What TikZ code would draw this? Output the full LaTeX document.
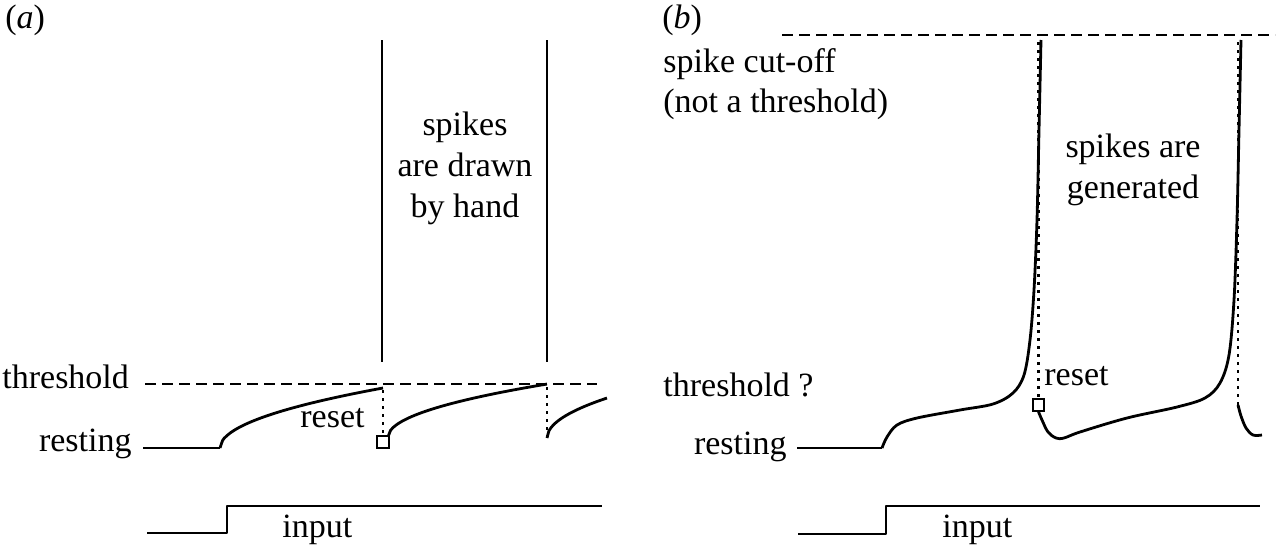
\documentclass[tikz,border=0pt]{standalone}
\usepackage{fontspec}
\setmainfont{Liberation Serif}
\usetikzlibrary{positioning}

\begin{document}
\begin{tikzpicture}[
        x=0.5pt, y=-0.5pt,
        font=\fontsize{17}{20.5}\selectfont,
        lbl/.style={inner sep=0pt},
        trace/.style={line width=1.4pt, line join=round},
        spikeln/.style={line width=1.1pt},
        cutoff/.style={line width=1.1pt, dash pattern=on 5.5pt off 3pt},
        resetln/.style={line width=1.4pt, dash pattern=on 1.4pt off 2.6pt},
        resetbox/.style={draw, line width=1pt, fill=white, inner sep=0pt,
                         minimum size=5.8pt}
    ]
        \useasboundingbox (0,0) rectangle (1280,547);

        % (a): integrate-and-fire, spikes drawn by hand
        \node[lbl, anchor=base west] (taga) at (5,28) {(\textit{a})};
        \node[lbl, anchor=base west] (thra) at (2,388) {threshold};
        \node[lbl, anchor=base east] (resta) at (132,451) {resting};
        \node[lbl, anchor=base east] (reseta) at (365,427) {reset};
        \node[lbl, anchor=base west] (inpa) at (282,537) {input};
        \node[lbl, align=center] (handa) at (465,168) {spikes\\are drawn\\by hand};

        \draw[cutoff] (145,384) -- (597,384);
        \draw[spikeln] (382,40) -- (382,362);
        \draw[spikeln] (547,40) -- (547,362);

        \node[resetbox] (sqa) at (383,442) {};
        \draw[trace] (143,448) -- (220,448);
        \draw[trace] plot[domain=0:163, samples=60, smooth] ({220+\x},{448-4.7*sqrt(\x)});
        \draw[resetln] (383,390) -- (sqa.north);
        \draw[trace] plot[domain=0:159, samples=60, smooth] ({388+\x},{437-4.2*sqrt(\x)});
        \draw[resetln] (547,387) -- (547,438);
        \draw[trace] plot[domain=0:60, samples=30, smooth] ({547+\x},{438-5.16*sqrt(\x)});

        \draw[trace] (147,533) -- (227,533) -- (227,506) -- (602,506);

        % (b): spikes generated by the model
        \node[lbl, anchor=base west] (tagb) at (662,28) {(\textit{b})};
        \node[lbl, anchor=base west] (cut) at (663,72) {spike cut-off};
        \node[lbl, anchor=base west] (notthr) at (663,112) {(not a threshold)};
        \node[lbl, anchor=base west] (thrb) at (663,396) {threshold ?};
        \node[lbl, anchor=base east] (restb) at (787,454) {resting};
        \node[lbl, anchor=base west] (resetb) at (1044,385) {reset};
        \node[lbl, anchor=base west] (inpb) at (942,537) {input};
        \node[lbl, align=center] (genb) at (1133,170) {spikes are\\generated};

        \draw[cutoff] (782,35) -- (1275,35);

        \node[resetbox] (sqb) at (1038.5,405) {};
        \draw[resetln] (1038.5,42) -- (sqb.north);
        \draw[resetln] (1238,42) -- (1238,405);

        \draw[trace] (797,448) -- (882,448);
        \draw[trace] plot[smooth, tension=0.55] coordinates {(882,448) (887,437)
            (897,425) (917,418) (960,410) (993,404) (1013,393) (1024,375)
            (1030,340) (1034,290) (1037,220) (1039,130) (1041,40)};
        \draw[trace] plot[smooth, tension=0.55] coordinates {(sqb.south)
            (1042,420) (1048,432) (1056,438) (1064,438) (1080,432) (1127,418)
            (1177,407) (1205,398) (1220,383) (1229,355) (1234,300) (1237,220)
            (1239,130) (1241,40)};
        \draw[trace] plot[smooth, tension=0.55] coordinates {(1238,405)
            (1241,416) (1246,428) (1253,435) (1262,435)};

        \draw[trace] (798,534) -- (886,534) -- (886,506) -- (1260,506);
    \end{tikzpicture}
\end{document}
